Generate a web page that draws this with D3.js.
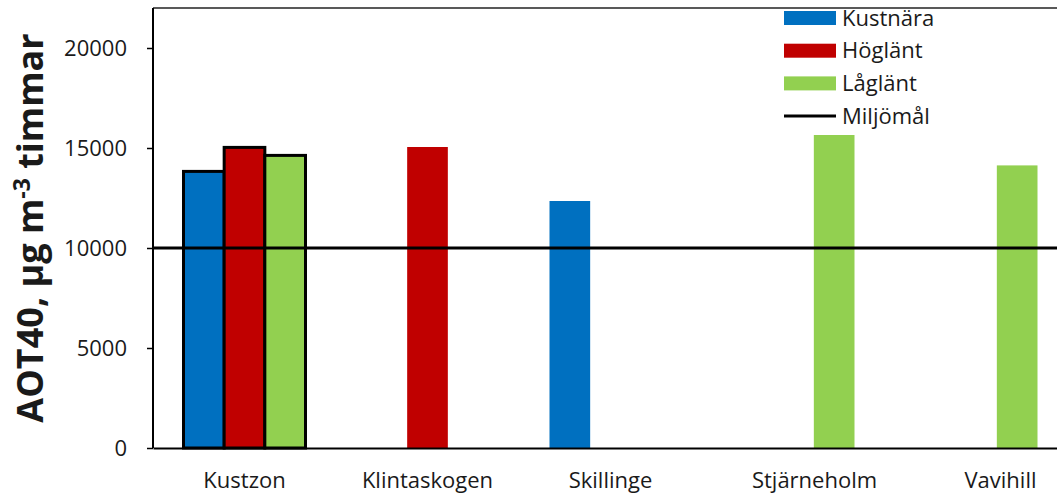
<!DOCTYPE html>
<html>
<head>
<meta charset="utf-8">
<script src="https://cdn.jsdelivr.net/npm/d3@7"></script>
<style>
  body { margin: 0; background: #fff; }
  text { font-family: "Open Sans", sans-serif; fill: #1a1a1a; }
</style>
</head>
<body>
<div id="wrapper"></div>
<script>
// data
const categories = ["Kustzon", "Klintaskogen", "Skillinge", "Stjärneholm", "Vavihill"];
const seriesNames = ["Kustnära", "Höglänt", "Låglänt"];
const kustnara = [13830, null, 12350, null, null];
const hoglant = [15030, 15050, null, null, null];
const laglant = [14630, null, null, 15650, 14130];
const miljomal = 10000;
const yTicks = [0, 5000, 10000, 15000, 20000];
const colors = ["#0070C0", "#C00000", "#92D050"];

function drawChart() {
	const width = 1057;
	const height = 495;
	const dims = { left: 153, top: 8, bottom: 448, right: 1068 };

	const svg = d3.select("#wrapper")
		.append("svg")
		.attr("width", width)
		.attr("height", height);

	// scales
	const x = d3.scaleBand()
		.domain(categories)
		.range([dims.left, dims.right]);
	const xSub = d3.scaleBand()
		.domain(seriesNames)
		.range([-61, 61]);
	const y = d3.scaleLinear()
		.domain([0, 22000])
		.range([dims.bottom, dims.top]);

	// bars
	const values = [kustnara, hoglant, laglant];
	const bars = [];
	seriesNames.forEach((s, i) => {
		values[i].forEach((v, j) => {
			if (v != null) bars.push({ series: s, si: i, cat: categories[j], value: v });
		});
	});

	svg.selectAll(".bar")
		.data(bars)
		.enter()
		.append("rect")
		.attr("class", "bar")
		.attr("x", d => x(d.cat) + x.bandwidth() / 2 + xSub(d.series))
		.attr("y", d => y(d.value))
		.attr("width", xSub.bandwidth())
		.attr("height", d => y(0) - y(d.value))
		.attr("fill", d => colors[d.si])
		.attr("stroke", d => d.cat === "Kustzon" ? "#000" : "none")
		.attr("stroke-width", 3);

	// frame lines
	svg.append("line")
		.attr("x1", dims.left).attr("x2", width)
		.attr("y1", dims.top).attr("y2", dims.top)
		.attr("stroke", "#222").attr("stroke-width", 1.5);

	// x axis
	const xAxis = svg.append("g")
		.attr("transform", `translate(0,${dims.bottom})`)
		.call(d3.axisBottom(x).tickSize(0).tickPadding(24));
	xAxis.select(".domain").attr("stroke", "#000").attr("stroke-width", 2);
	xAxis.selectAll("text")
		.style("font-size", "22px")
		.style("font-family", "Open Sans")
		.attr("fill", "#1a1a1a")
		.attr("dx", d => d === "Stjärneholm" ? 21 : d === "Vavihill" ? 24 : 0);

	// y axis
	const yAxis = svg.append("g")
		.attr("transform", `translate(${dims.left},0)`)
		.call(d3.axisLeft(y).tickValues(yTicks).tickSize(6).tickPadding(20).tickFormat(d3.format("d")));
	yAxis.select(".domain").attr("d", `M0,${dims.bottom}V${dims.top}`).attr("stroke", "#000").attr("stroke-width", 2);
	yAxis.selectAll(".tick line").attr("stroke", "#000").attr("stroke-width", 1.5);
	yAxis.selectAll("text")
		.style("font-size", "22px")
		.style("font-family", "Open Sans")
		.attr("fill", "#1a1a1a");

	// target line
	svg.append("line")
		.attr("x1", dims.left).attr("x2", width)
		.attr("y1", y(miljomal)).attr("y2", y(miljomal))
		.attr("stroke", "#000").attr("stroke-width", 3);

	// y title
	const title = svg.append("text")
		.attr("transform", `translate(43,${228}) rotate(-90)`)
		.attr("text-anchor", "middle")
		.style("font-size", "36px")
		.style("font-weight", "bold");
	title.append("tspan").text("AOT40, µg m");
	title.append("tspan").attr("dy", -13).style("font-size", "23px").text("-3");
	title.append("tspan").attr("dy", 13).text(" timmar");

	// legend
	const legend = svg.append("g").attr("transform", "translate(784,18)");
	const items = seriesNames.concat(["Miljömål"]);
	const row = legend.selectAll("g")
		.data(items)
		.enter()
		.append("g")
		.attr("transform", (d, i) => `translate(0,${i * 32.7})`);
	row.each(function(d, i) {
		const g = d3.select(this);
		if (i < 3) {
			g.append("rect").attr("x", 0).attr("y", -7).attr("width", 52).attr("height", 14).attr("fill", colors[i]);
		} else {
			g.append("line").attr("x1", 0).attr("x2", 52).attr("y1", 0).attr("y2", 0)
				.attr("stroke", "#000").attr("stroke-width", 3);
		}
		g.append("text")
			.attr("x", 58)
			.attr("dy", "0.35em")
			.style("font-size", "22px")
			.text(d);
	});
}

drawChart();
</script>
</body>
</html>
